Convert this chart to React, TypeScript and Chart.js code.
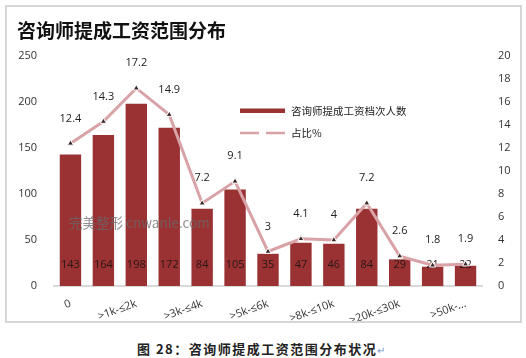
import React, { useEffect, useRef } from "react";
import { Chart, registerables } from "chart.js";
Chart.register(...registerables);

const categories = ["0", ">0-≤1k", ">1k-≤2k", ">2k-≤3k", ">3k-≤4k", ">4k-≤5k", ">5k-≤6k", ">6k-≤8k", ">8k-≤10k", ">10k-≤20k", ">20k-≤30k", ">30k-≤50k", ">50k-..."];
const counts = [143, 164, 198, 172, 84, 105, 35, 47, 46, 84, 29, 21, 22];
const shares = [12.4, 14.3, 17.2, 14.9, 7.2, 9.1, 3, 4.1, 4, 7.2, 2.6, 1.8, 1.9];
const barLabel = "咨询师提成工资档次人数";
const lineLabel = "占比%";
const title = "咨询师提成工资范围分布";
const caption = "图 28：咨询师提成工资范围分布状况";
const watermark = "完美整形 cnwanle.com";

const BAR_COLOR = "#9a3234";
const LINE_COLOR = "#d8a2a6";
const NUM_FONT = '11px "Open Sans", "Noto Sans CJK SC", sans-serif';

const labelPlugin = {
  id: "customLabels",
  afterDatasetDraw(chart: any, args: any) {
    const ctx = chart.ctx;
    if (args.index === 0) {
      const meta = chart.getDatasetMeta(0);
      const y0 = chart.scales.y.getPixelForValue(0);
      ctx.save();
      ctx.font = NUM_FONT;
      ctx.fillStyle = "#2a1515";
      ctx.textAlign = "center";
      ctx.textBaseline = "middle";
      meta.data.forEach((el: any, i: number) => {
        ctx.fillText(String(counts[i]), el.x, y0 - 21);
      });
      ctx.restore();
    }
  },
  afterDraw(chart: any) {
    const ctx = chart.ctx;
    ctx.save();
    const meta = chart.getDatasetMeta(1);
    ctx.font = NUM_FONT;
    ctx.fillStyle = "#222";
    ctx.textAlign = "center";
    ctx.textBaseline = "middle";
    meta.data.forEach((el: any, i: number) => {
      ctx.fillText(String(shares[i]), el.x, el.y - 25);
    });
    ctx.fillStyle = BAR_COLOR;
    ctx.fillRect(240, 108.5, 45, 4.5);
    ctx.strokeStyle = LINE_COLOR;
    ctx.lineWidth = 2.5;
    ctx.beginPath();
    ctx.moveTo(240, 133);
    ctx.lineTo(259, 133);
    ctx.moveTo(266, 133);
    ctx.lineTo(285, 133);
    ctx.stroke();
    ctx.fillStyle = "#222";
    ctx.textAlign = "left";
    ctx.font = '10.5px "Noto Sans CJK SC", sans-serif';
    ctx.fillText(barLabel, 291, 111);
    ctx.fillText(lineLabel, 291, 133);
    ctx.globalAlpha = 0.75;
    ctx.fillStyle = "#6a6a6a";
    ctx.font = '13.5px "Noto Sans CJK SC", sans-serif';
    ctx.fillText(watermark, 69, 223);
    ctx.restore();
  },
};

export default function App() {
  const ref = useRef<HTMLCanvasElement | null>(null);
  useEffect(() => {
    if (!ref.current) return;
    const chart = new Chart(ref.current, {
      type: "bar",
      data: {
        labels: categories,
        datasets: [
          {
            type: "bar",
            label: barLabel,
            data: counts,
            backgroundColor: BAR_COLOR,
            yAxisID: "y",
            categoryPercentage: 1,
            barPercentage: 0.65,
            order: 1,
          } as any,
          {
            type: "line",
            label: lineLabel,
            data: shares,
            borderColor: LINE_COLOR,
            borderWidth: 3,
            yAxisID: "y1",
            pointStyle: "triangle",
            pointRadius: 3.5,
            pointBackgroundColor: "#3a2626",
            pointBorderColor: "#ffffff",
            pointBorderWidth: 1,
            tension: 0,
            order: 0,
          } as any,
        ],
      },
      options: {
        responsive: false,
        animation: false,
        layout: { padding: { top: 56, left: 0, right: 0, bottom: 0 } },
        plugins: {
          legend: { display: false },
          tooltip: { enabled: false },
          title: { display: false },
        },
        scales: {
          x: {
            grid: { display: false },
            border: { display: true, color: "#d9d9d9", width: 2 },
            afterFit: (s: any) => { s.height = 44; },
            ticks: {
              autoSkip: false,
              minRotation: 20,
              maxRotation: 20,
              padding: 3,
              color: "#333",
              font: { family: '"Open Sans", sans-serif', size: 11 },
              callback: (_v: any, i: number) => (i % 2 === 0 ? categories[i] : ""),
            },
          },
          y: {
            position: "left",
            min: 0,
            max: 250,
            grid: { display: false },
            border: { display: false },
            afterFit: (s: any) => { s.width = 54; },
            ticks: {
              stepSize: 50,
              padding: 9,
              color: "#333",
              font: { family: '"Open Sans", sans-serif', size: 11 },
            },
          },
          y1: {
            position: "right",
            min: 0,
            max: 20,
            grid: { display: false },
            border: { display: false },
            afterFit: (s: any) => { s.width = 44; },
            ticks: {
              stepSize: 2,
              padding: 8,
              color: "#333",
              font: { family: '"Open Sans", sans-serif', size: 11 },
            },
          },
        },
      },
      plugins: [labelPlugin],
    } as any);
    return () => chart.destroy();
  }, []);

  return (
    <div style={{ position: "absolute", left: 0, top: 0, width: 526, height: 358, background: "#fff", overflow: "hidden" }}>
      <canvas ref={ref} width={526} height={330} style={{ position: "absolute", left: 0, top: 0, display: "block" }} />
      <div
        style={{
          position: "absolute", left: 5, top: 5, width: 517, height: 318,
          border: "2px solid #d6d6d6", boxSizing: "border-box", pointerEvents: "none",
        }}
      />
      <div
        style={{
          position: "absolute", left: 17, top: 19, fontFamily: '"Noto Sans CJK SC", sans-serif',
          fontWeight: 700, fontSize: 19, lineHeight: "22px", color: "#111", whiteSpace: "nowrap",
        }}
      >
        {title}
      </div>
      <div
        style={{
          position: "absolute", left: 137, top: 341, fontFamily: '"Noto Sans CJK SC", serif',
          fontWeight: 700, fontSize: 13, lineHeight: "16px", letterSpacing: "1.5px", color: "#222", whiteSpace: "nowrap",
        }}
      >
        {caption}
        <span style={{ color: "#7a9bd0", fontSize: 10, fontWeight: 400 }}>↵</span>
      </div>
    </div>
  );
}
